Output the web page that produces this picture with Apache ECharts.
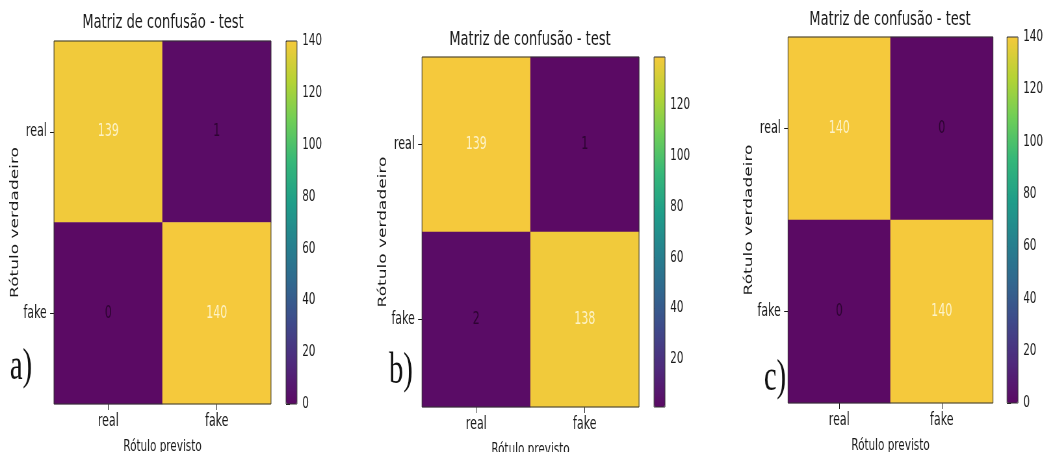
<!DOCTYPE html>
<html>
<head>
<meta charset="utf-8">
<script src="https://cdn.jsdelivr.net/npm/echarts@6/dist/echarts.min.js"></script>
<style>
  html, body { margin: 0; padding: 0; background: #ffffff; overflow: hidden; width: 1045px; height: 452px; }
  #chart { height: 452px; transform-origin: 0 0; }
</style>
</head>
<body>
<div id="chart"></div>
<script>
// ---------------- data ----------------
const categories = ['real', 'fake'];
const titleText = 'Matriz de confusão - test';
const xName = 'Rótulo previsto';
const yName = 'Rótulo verdadeiro';
const panelTags = ['a)', 'b)', 'c)'];
// rows = true label (real, fake), columns = predicted label (real, fake)
const valuesA = [[139, 1], [0, 140]];
const valuesB = [[139, 1], [2, 138]];
const valuesC = [[140, 0], [0, 140]];
const rangeA = [0, 140];
const rangeB = [1, 139];
const rangeC = [0, 140];
const cbTicksA = [0, 20, 40, 60, 80, 100, 120, 140];
const cbTicksB = [20, 40, 60, 80, 100, 120];
const cbTicksC = [0, 20, 40, 60, 80, 100, 120, 140];

// ---------------- styling / layout ----------------
const S = 0.65;                 // horizontal squash of the reference picture
const W = Math.round(1045 / S);
const X = v => v / S;
const viridis = ['#5b0a64', '#4f2a7c', '#3f4a8a', '#31688e', '#26828e',
                 '#1f9e89', '#35b779', '#6ece58', '#b5d334', '#f5c93c'];
const txt = '#1a1a1a';
const font = 'DejaVu Sans';

const panels = [
  { vals: valuesA, range: rangeA, ticks: cbTicksA, grid: [54, 41, 271, 404], cb: [286, 297], title: [163, 13], tag: [21, 367], yGap: 43 },
  { vals: valuesB, range: rangeB, ticks: cbTicksB, grid: [422, 57, 639, 407], cb: [654, 665], title: [530, 30], tag: [401, 371], yGap: 46 },
  { vals: valuesC, range: rangeC, ticks: cbTicksC, grid: [788, 37, 993, 403], cb: [1007, 1018], title: [890, 10], tag: [775, 378], yGap: 42 }
];

const dom = document.getElementById('chart');
dom.style.width = W + 'px';
dom.style.transform = 'scaleX(' + S + ')';
const chart = echarts.init(dom, null, { renderer: 'canvas', width: W, height: 452 });

const grids = [], xAxes = [], yAxes = [], series = [], visualMaps = [], titles = [], graphics = [];

panels.forEach((p, i) => {
  const [gl, gt, gr, gb] = p.grid;
  grids[i] = {
    left: X(gl), top: gt, width: X(gr - gl), height: gb - gt,
    outerBoundsMode: 'none', containLabel: false,
    show: true, borderColor: '#333', borderWidth: 1, backgroundColor: 'transparent', z: 3
  };
  grids[i + 3] = {
    left: X(p.cb[0]), top: gt, width: X(p.cb[1] - p.cb[0]), height: gb - gt,
    outerBoundsMode: 'none', containLabel: false,
    show: true, borderColor: '#333', borderWidth: 1, backgroundColor: 'transparent', z: 10
  };
  xAxes[i] = {
    type: 'category', gridIndex: i, data: categories, position: 'bottom',
    axisLine: { show: false },
    axisTick: { show: true, alignWithLabel: true, length: 6, lineStyle: { color: txt } },
    axisLabel: { color: txt, fontSize: 17, margin: 9, fontFamily: font },
    splitLine: { show: false },
    name: xName, nameLocation: 'middle', nameGap: 35,
    nameTextStyle: { color: txt, fontSize: 16, fontFamily: font }
  };
  xAxes[i + 3] = { type: 'value', gridIndex: i + 3, show: false, min: 0, max: 1 };
  yAxes[i] = {
    type: 'category', gridIndex: i, data: categories, inverse: true,
    axisLine: { show: false },
    axisTick: { show: true, alignWithLabel: true, length: 6, lineStyle: { color: txt } },
    axisLabel: { color: txt, fontSize: 17, margin: 11, fontFamily: font },
    splitLine: { show: false },
    name: yName, nameLocation: 'middle', nameGap: p.yGap, nameRotate: 90,
    nameTextStyle: { color: txt, fontSize: 17, fontFamily: font }
  };
  yAxes[i + 3] = {
    type: 'value', gridIndex: i + 3, position: 'right',
    min: p.range[0], max: p.range[1],
    axisLine: { show: false },
    splitLine: { show: false },
    axisTick: { show: true, length: 6, customValues: p.ticks, lineStyle: { color: txt } },
    axisLabel: { show: true, customValues: p.ticks, color: txt, fontSize: 16, margin: 8, fontFamily: font }
  };
  const mid = (p.range[0] + p.range[1]) / 2;
  const data = [];
  p.vals.forEach((row, r) => row.forEach((v, c) => {
    data.push({ value: [c, r, v], label: { color: v > mid ? '#fdf3c8' : '#2e0433' } });
  }));
  series.push({
    type: 'heatmap', xAxisIndex: i, yAxisIndex: i, data: data, z: 2,
    label: { show: true, fontSize: 17, fontFamily: font, formatter: d => String(d.value[2]) },
    emphasis: { disabled: true }
  });
  visualMaps.push({
    type: 'continuous', seriesIndex: i, min: p.range[0], max: p.range[1],
    calculable: false, hoverLink: false, orient: 'vertical', padding: 0,
    left: X(p.cb[0]), top: gt, itemWidth: X(p.cb[1] - p.cb[0]), itemHeight: gb - gt,
    text: null, inRange: { color: viridis }
  });
  titles.push({
    text: titleText, left: X(p.title[0]), top: p.title[1], textAlign: 'center', padding: 0,
    textStyle: { color: txt, fontSize: 20, fontWeight: 'normal', fontFamily: font }
  });
  graphics.push({
    type: 'text', x: X(p.tag[0]), y: p.tag[1], z: 20,
    style: { text: panelTags[i], font: 'normal 44px "Liberation Serif", "DejaVu Serif", serif',
             fill: '#111', align: 'center', verticalAlign: 'middle' }
  });
});

chart.setOption({
  backgroundColor: '#ffffff',
  animation: false,
  textStyle: { fontFamily: font },
  title: titles,
  grid: grids,
  xAxis: xAxes,
  yAxis: yAxes,
  visualMap: visualMaps,
  series: series,
  graphic: graphics
});
</script>
</body>
</html>
